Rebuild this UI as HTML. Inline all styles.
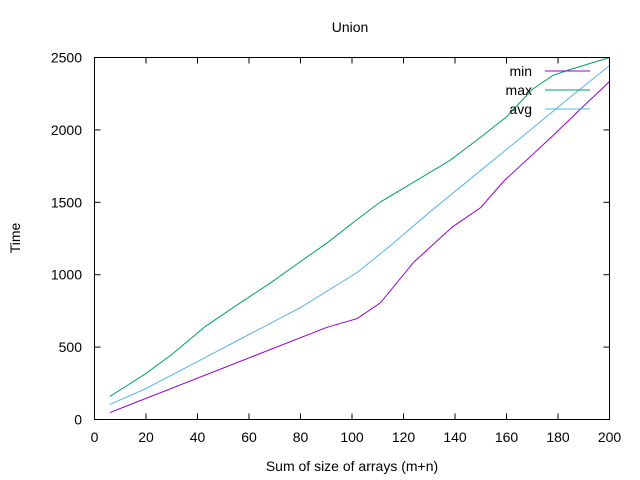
<!DOCTYPE html>
<html><head><meta charset="utf-8"><style>
body{margin:0;background:#fff}
svg{display:block;font-family:"Liberation Sans",sans-serif}
</style></head><body>
<svg id="chart" width="640" height="480">
<rect x="0" y="0" width="640" height="480" fill="#fff"/>
<text x="350" y="32" font-size="14" text-anchor="middle">Union</text>
<text x="352" y="471" font-size="14" text-anchor="middle">Sum of size of arrays (m+n)</text>
<text x="20" y="238" font-size="14" text-anchor="middle" transform="rotate(-90 20 238)">Time</text>
<g id="axes"></g>
<g id="series"></g>
<g id="legend"></g>
<rect x="94.5" y="57.5" width="515" height="362" fill="none" stroke="#000" stroke-width="1"/>
</svg>
<script>
const xTicks=[0,20,40,60,80,100,120,140,160,180,200];
const yTicks=[0,500,1000,1500,2000,2500];
const seriesNames=["min","max","avg"];
const seriesColors=["#9400d3","#009e73","#56b4e9"];
const minX=[6,90,102,111,124,139,150,159,177,190,200];
const minY=[48,635,697,805,1087,1330,1464,1647,1943,2165,2334];
const maxX=[6,20,30,43,55,68,80,90,102,111,125,138,150,160,170,178,184,200];
const maxY=[159,318,449,642,787,939,1091,1215,1381,1502,1650,1789,1950,2090,2280,2376,2413,2500];
const avgX=[6,20,40,60,80,102,115,130,150,170,185,200];
const avgY=[104,214,400,587,773,1015,1202,1430,1720,2010,2230,2445];
const NS="http://www.w3.org/2000/svg";
const X0=94.5,X1=609.5,Y0=419.5,Y1=57.5;
function sx(v){return X0+(v-0)/(200-0)*(X1-X0);}
function sy(v){return Y0-(v-0)/(2500-0)*(Y0-Y1);}
const axes=document.getElementById('axes');
function mk(t,a,p){const e=document.createElementNS(NS,t);for(const k in a)e.setAttribute(k,a[k]);p.appendChild(e);return e;}
xTicks.forEach(v=>{
 const x=sx(v);
 const t=mk('line',{x1:x,x2:x,y1:Y0,y2:Y0-6,stroke:'#000'},axes);
 
 
 const t2=mk('line',{x1:x,x2:x,y1:Y1,y2:Y1+6,stroke:'#000'},axes);
 
 
 const l=mk('text',{x:x,y:442,'font-size':14,'text-anchor':'middle'},axes);l.textContent=v;
 
 
});
yTicks.forEach(v=>{
 const y=sy(v);
 const t=mk('line',{x1:X0,x2:X0+6,y1:y,y2:y,stroke:'#000'},axes);
 
 
 const t2=mk('line',{x1:X1,x2:X1-6,y1:y,y2:y,stroke:'#000'},axes);
 
 
 const l=mk('text',{x:82,y:y+5,'font-size':14,'text-anchor':'end'},axes);l.textContent=v;
 
 
});
const ser=document.getElementById('series');
[[minX,minY],[maxX,maxY],[avgX,avgY]].forEach((d,i)=>{
 const pts=d[0].map((x,j)=>sx(x)+','+sy(d[1][j])).join(' ');
 const p=mk('polyline',{points:pts,fill:'none',stroke:seriesColors[i],'stroke-width':1},ser);
 
 
});
const lg=document.getElementById('legend');
seriesNames.forEach((n,i)=>{
 const y=71+i*19;
 const t=mk('text',{x:532,y:y+5,'font-size':14,'text-anchor':'end'},lg);t.textContent=n;
 
 
 const l=mk('line',{x1:545,x2:590,y1:y,y2:y,stroke:seriesColors[i]},lg);
 
 
});
</script>
</body></html>
